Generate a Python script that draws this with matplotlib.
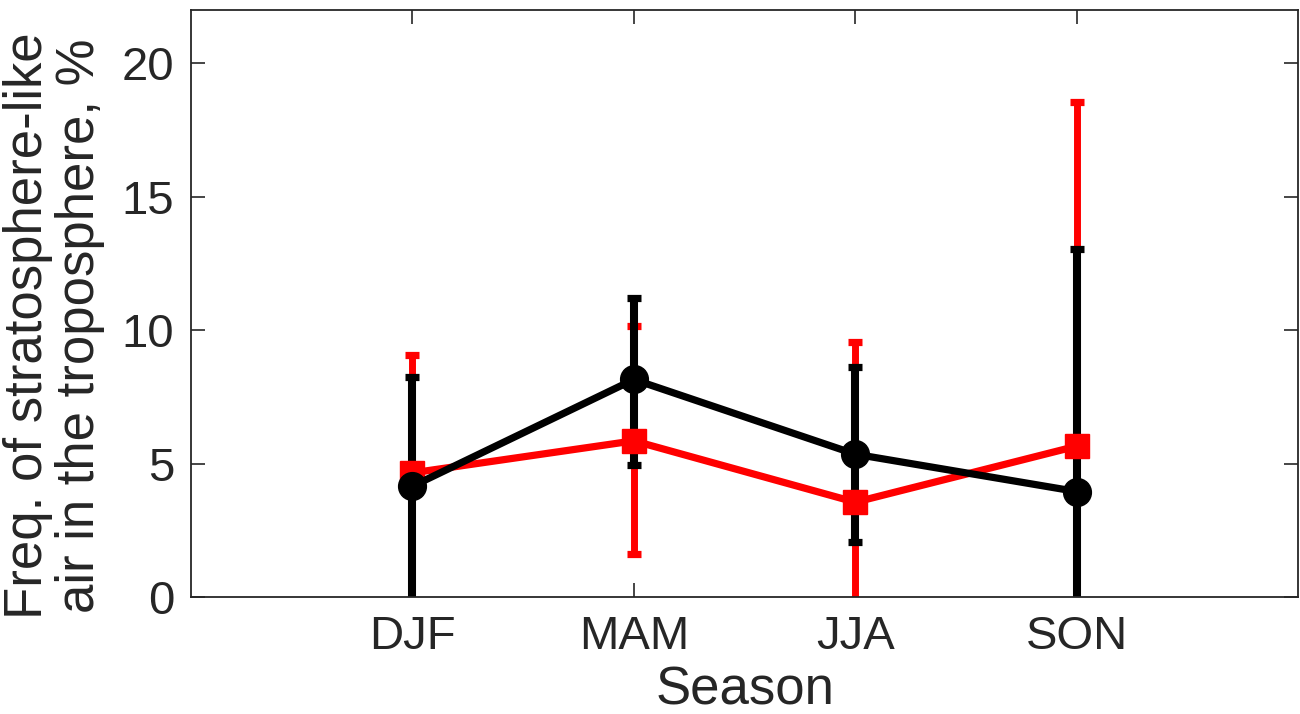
import numpy as np
import matplotlib
matplotlib.use('Agg')
import matplotlib.pyplot as plt

# seasonal values (%)
seasons = ['DJF', 'MAM', 'JJA', 'SON']
red_mean = [4.65, 5.85, 3.55, 5.65]
red_upper = [9.05, 10.15, 9.55, 18.55]
red_lower = [-0.5, 1.6, -2.4, -7.2]
black_mean = [4.15, 8.15, 5.35, 3.95]
black_upper = [8.25, 11.2, 8.6, 13.05]
black_lower = [-0.3, 4.95, 2.05, -5.1]

plt.rcParams['font.family'] = ['Liberation Sans', 'DejaVu Sans']
TXT = '#262626'


def main():
    fig = plt.figure(figsize=(13, 7.14), dpi=100)
    ax = fig.add_axes([0.147, 0.164, 0.8515, 0.822])

    x = np.arange(1, len(seasons) + 1)

    def draw(mean, lo, hi, color, marker, ms, elw):
        mean = np.array(mean)
        yerr = [mean - np.array(lo), np.array(hi) - mean]
        ax.errorbar(x, mean, yerr=yerr, color=color, lw=5.2, marker=marker,
                    ms=ms, elinewidth=elw, capsize=5, capthick=5.2,
                    clip_on=True)

    draw(red_mean, red_lower, red_upper, '#ff0000', 's', 17.5, 5)
    draw(black_mean, black_lower, black_upper, 'black', 'o', 20, 5.8)

    ax.set_xlim(0, 5)
    ax.set_ylim(0, 22)
    ax.set_xticks(x)
    ax.set_xticklabels(seasons)
    ax.set_yticks([0, 5, 10, 15, 20])

    ax.tick_params(direction='in', length=10, width=1.2, colors=TXT,
                   labelsize=34, top=True, right=True)
    ax.tick_params(axis='x', pad=13)
    ax.tick_params(axis='y', pad=12)
    for sp in ax.spines.values():
        sp.set_color(TXT)
        sp.set_linewidth(1.3)

    ax.set_xlabel('Season', fontsize=38, color=TXT, labelpad=5)
    ax.set_ylabel('Freq. of stratosphere-like\nair in the troposphere, %',
                  fontsize=38, color=TXT, linespacing=1.05)
    ax.yaxis.set_label_coords(-0.078, 0.462)

    fig.savefig('out.png', dpi=100)


if __name__ == '__main__':
    main()
